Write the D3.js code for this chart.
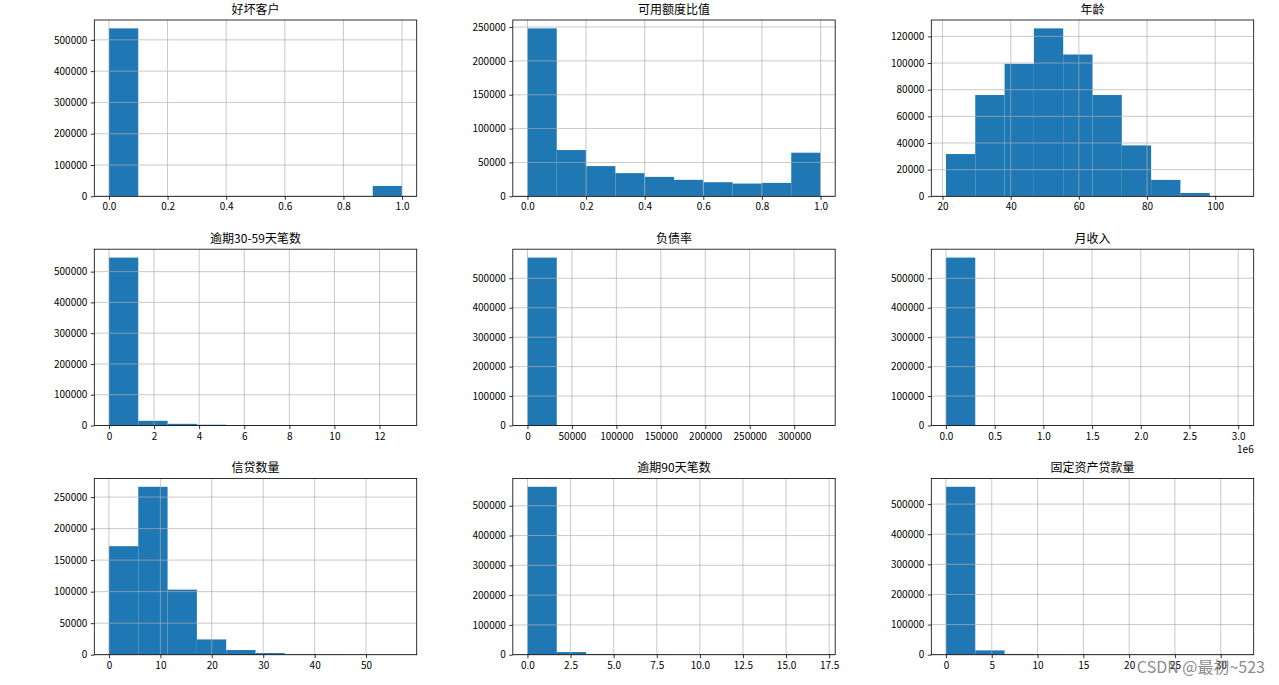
<!DOCTYPE html>
<html>
<head>
<meta charset="utf-8">
<script src="https://cdn.jsdelivr.net/npm/d3@7"></script>
<style>
  html, body { margin: 0; padding: 0; background: #fff; }
  svg { display: block; }
  text { font-family: "Noto Sans CJK SC", "DejaVu Sans", sans-serif; fill: #000; }
</style>
</head>
<body>
<svg id="chart" width="1279" height="685"></svg>
<script>
// ---- data ----
const titles = ["好坏客户", "可用额度比值", "年龄", "逾期30-59天笔数", "负债率", "月收入", "信贷数量", "逾期90天笔数", "固定资产贷款量"];

// value range [min, max] of each variable (10 equal bins in between)
const rangeGoodBad   = [0, 1];
const rangeRatio     = [0, 1];
const rangeAge       = [21, 107];
const rangeLate3059  = [0, 13];
const rangeDebt      = [0, 329664];
const rangeIncome    = [0, 3008750];
const rangeLoans     = [0, 57];
const rangeLate90    = [0, 17];
const rangeEstate    = [0, 32];

// bin counts (10 bins each)
const countsGoodBad  = [536600, 0, 0, 0, 0, 0, 0, 0, 0, 33100];
const countsRatio    = [248000, 68300, 44600, 34200, 28700, 24300, 20800, 18800, 19800, 64400];
const countsAge      = [31700, 76000, 99400, 126000, 106400, 76000, 38200, 12300, 2500, 150];
const countsLate3059 = [545600, 15200, 5400, 2500, 600, 150, 40, 15, 8, 4];
const countsDebt     = [570300, 40, 12, 6, 3, 2, 1, 1, 0, 1];
const countsIncome   = [570300, 30, 8, 3, 2, 1, 0, 0, 0, 1];
const countsLoans    = [172100, 266300, 103200, 24200, 7400, 2600, 500, 120, 40, 10];
const countsLate90   = [563600, 8900, 2500, 700, 200, 60, 20, 8, 3, 2];
const countsEstate   = [557400, 14300, 2500, 500, 100, 30, 10, 5, 2, 1];

// tick values
const yTicksA = [0, 100000, 200000, 300000, 400000, 500000];
const yTicksB = [0, 50000, 100000, 150000, 200000, 250000];
const yTicksAge = [0, 20000, 40000, 60000, 80000, 100000, 120000];

const xTicksUnit    = [0, 0.2, 0.4, 0.6, 0.8, 1.0];
const xTicksAge     = [20, 40, 60, 80, 100];
const xTicksLate3059 = [0, 2, 4, 6, 8, 10, 12];
const xTicksDebt    = [0, 50000, 100000, 150000, 200000, 250000, 300000];
const xTicksIncome  = [0, 500000, 1000000, 1500000, 2000000, 2500000, 3000000];
const xTicksLoans   = [0, 10, 20, 30, 40, 50];
const xTicksLate90  = [0, 2.5, 5, 7.5, 10, 12.5, 15, 17.5];
const xTicksEstate  = [0, 5, 10, 15, 20, 25, 30];

const watermark = "CSDN @最初~523";

// ---- panels ----
const f1 = d3.format(".1f");
const fInt = d3.format("d");
const panels = [
  { title: titles[0], range: rangeGoodBad,  counts: countsGoodBad,  xTicks: xTicksUnit,     yTicks: yTicksA,   xFmt: f1 },
  { title: titles[1], range: rangeRatio,    counts: countsRatio,    xTicks: xTicksUnit,     yTicks: yTicksB,   xFmt: f1 },
  { title: titles[2], range: rangeAge,      counts: countsAge,      xTicks: xTicksAge,      yTicks: yTicksAge, xFmt: fInt },
  { title: titles[3], range: rangeLate3059, counts: countsLate3059, xTicks: xTicksLate3059, yTicks: yTicksA,   xFmt: fInt },
  { title: titles[4], range: rangeDebt,     counts: countsDebt,     xTicks: xTicksDebt,     yTicks: yTicksA,   xFmt: fInt },
  { title: titles[5], range: rangeIncome,   counts: countsIncome,   xTicks: xTicksIncome,   yTicks: yTicksA,   xFmt: d => f1(d / 1e6), offset: "1e6" },
  { title: titles[6], range: rangeLoans,    counts: countsLoans,    xTicks: xTicksLoans,    yTicks: yTicksB,   xFmt: fInt },
  { title: titles[7], range: rangeLate90,   counts: countsLate90,   xTicks: xTicksLate90,   yTicks: yTicksA,   xFmt: f1 },
  { title: titles[8], range: rangeEstate,   counts: countsEstate,   xTicks: xTicksEstate,   yTicks: yTicksA,   xFmt: fInt },
];

const svg = d3.select("#chart");
const left0 = 94.3, colStep = 418.5, pw = 322.4;
const top0 = 20, rowStep = 229.2, ph = 176.3;

panels.forEach((p, i) => {
  const col = i % 3, row = Math.floor(i / 3);
  const x0 = left0 + col * colStep, y0 = top0 + row * rowStep;
  const g = svg.append("g").attr("transform", `translate(${x0},${y0})`);

  const [mn, mx] = p.range;
  const span = mx - mn;
  const x = d3.scaleLinear().domain([mn - 0.05 * span, mx + 0.05 * span]).range([0, pw]);
  const y = d3.scaleLinear().domain([0, d3.max(p.counts) * 1.05]).range([ph, 0]);
  const bw = span / p.counts.length;
  const bins = p.counts.map((c, k) => ({ x0: mn + k * bw, x1: mn + (k + 1) * bw, c }));

  // bars
  g.selectAll("rect.bar").data(bins).join("rect")
    .attr("class", "bar")
    .attr("x", d => x(d.x0))
    .attr("width", d => x(d.x1) - x(d.x0))
    .attr("y", d => y(d.c))
    .attr("height", d => ph - y(d.c))
    .attr("fill", "#1f77b4");

  // grid (above bars, as in matplotlib)
  g.selectAll("line.gx").data(p.xTicks).join("line")
    .attr("x1", d => x(d)).attr("x2", d => x(d))
    .attr("y1", 0).attr("y2", ph)
    .attr("stroke", "#b0b0b0").attr("stroke-width", 0.8).attr("opacity", 0.85);
  g.selectAll("line.gy").data(p.yTicks).join("line")
    .attr("x1", 0).attr("x2", pw)
    .attr("y1", d => y(d)).attr("y2", d => y(d))
    .attr("stroke", "#b0b0b0").attr("stroke-width", 0.8).attr("opacity", 0.85);

  // axes
  const xAxis = d3.axisBottom(x).tickValues(p.xTicks).tickFormat(p.xFmt).tickSize(3.5).tickPadding(3.5);
  const yAxis = d3.axisLeft(y).tickValues(p.yTicks).tickFormat(fInt).tickSize(3.5).tickPadding(3.5);
  const gx = g.append("g").attr("transform", `translate(0,${ph})`).call(xAxis);
  const gy = g.append("g").call(yAxis);
  [gx, gy].forEach(a => {
    a.select(".domain").remove();
    a.selectAll(".tick line").attr("stroke", "#000").attr("stroke-width", 0.8);
    a.selectAll(".tick text").attr("font-size", 10).attr("font-family", "'Noto Sans CJK SC', 'DejaVu Sans', sans-serif").attr("fill", "#222");
  });

  // frame
  g.append("rect").attr("x", 0).attr("y", 0).attr("width", pw).attr("height", ph)
    .attr("fill", "none").attr("stroke", "#000").attr("stroke-width", 0.8);

  // title
  g.append("text").attr("x", pw / 2).attr("y", -6)
    .attr("text-anchor", "middle").attr("font-size", 12).attr("fill", "#222").text(p.title);

  if (p.offset) {
    g.append("text").attr("x", pw).attr("y", ph + 28)
      .attr("text-anchor", "end").attr("font-size", 10).attr("fill", "#222").text(p.offset);
  }
});

// watermark
svg.append("text").attr("x", 1265).attr("y", 673)
  .attr("text-anchor", "end").attr("font-size", 16)
  .style("fill", "#777").attr("opacity", 0.85).text(watermark);
</script>
</body>
</html>
